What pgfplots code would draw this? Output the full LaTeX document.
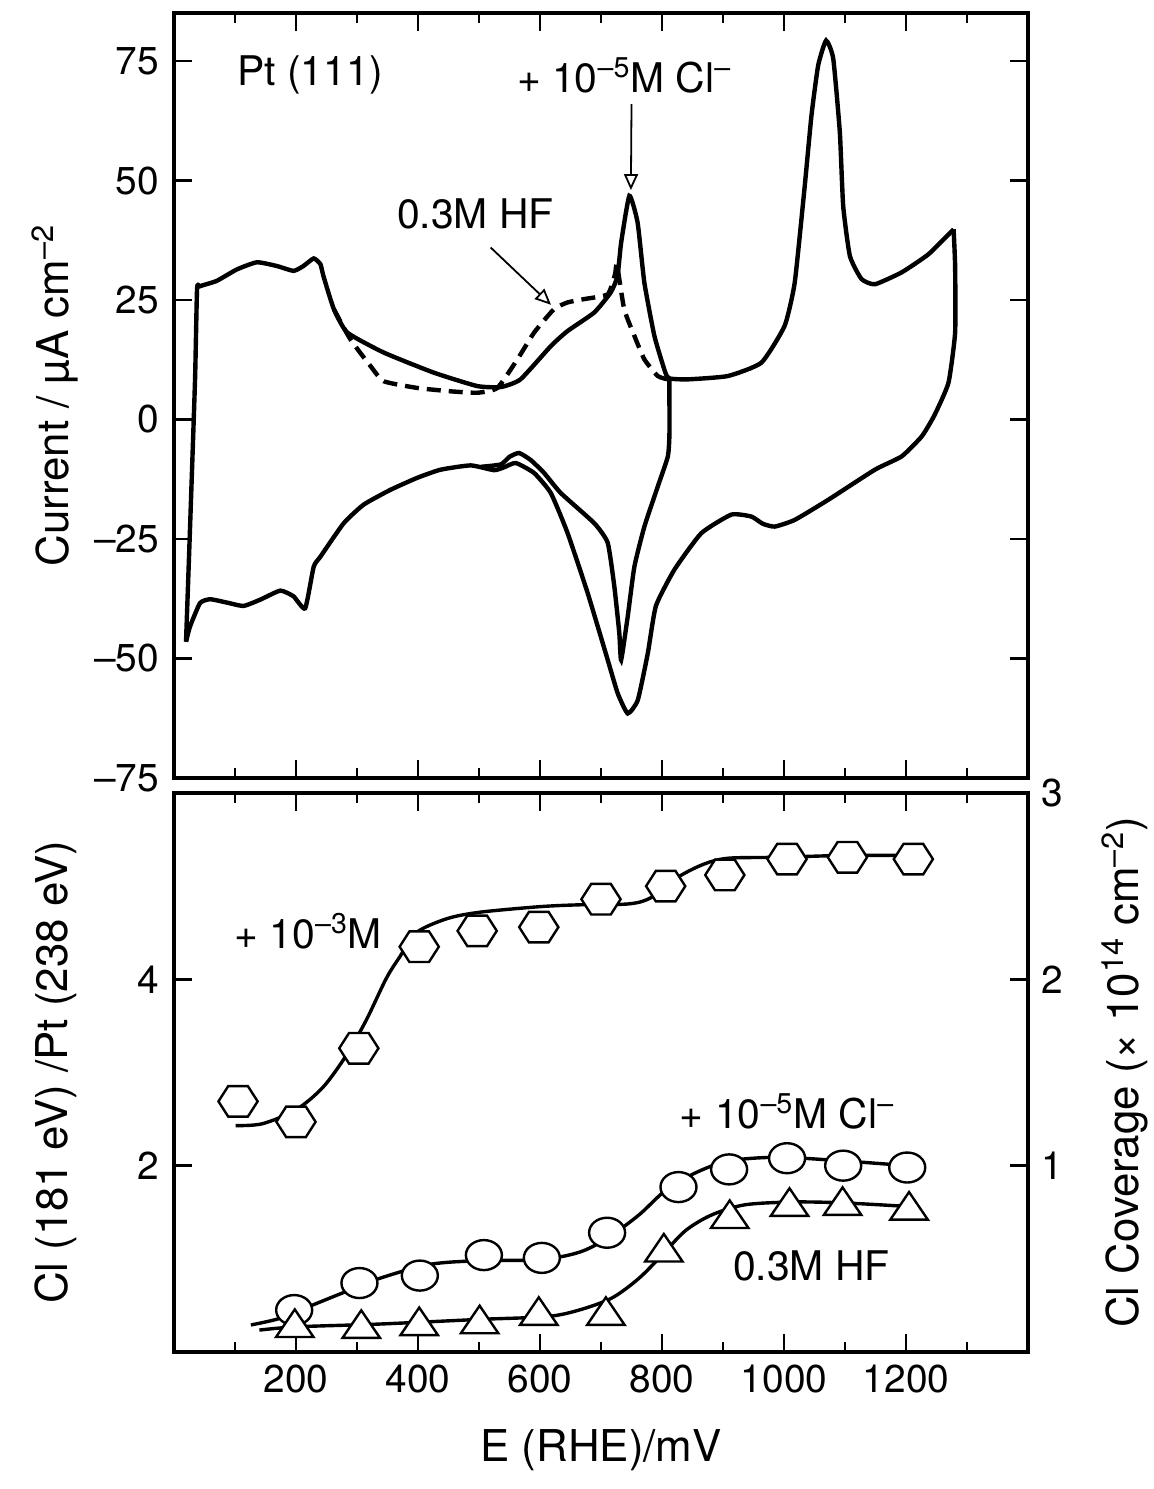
\documentclass[border=0pt]{standalone}
\usepackage{fontspec}
\setmainfont{TeX Gyre Heros}
\usepackage{pgfplots}
\pgfplotsset{compat=1.18}
\usetikzlibrary{arrows.meta}
\pgfdeclareplotmark{hexagon}{%
  \pgfpathmoveto{\pgfqpoint{\pgfplotmarksize}{0pt}}%
  \pgfpathlineto{\pgfqpoint{0.5\pgfplotmarksize}{0.78\pgfplotmarksize}}%
  \pgfpathlineto{\pgfqpoint{-0.5\pgfplotmarksize}{0.78\pgfplotmarksize}}%
  \pgfpathlineto{\pgfqpoint{-\pgfplotmarksize}{0pt}}%
  \pgfpathlineto{\pgfqpoint{-0.5\pgfplotmarksize}{-0.78\pgfplotmarksize}}%
  \pgfpathlineto{\pgfqpoint{0.5\pgfplotmarksize}{-0.78\pgfplotmarksize}}%
  \pgfpathclose
  \pgfusepathqfillstroke}
\newcommand{\tfont}{\fontsize{19.5}{23}\selectfont}
\newcommand{\lfont}{\fontsize{22}{26}\selectfont}
\newcommand{\ifont}{\fontsize{20.5}{24}\selectfont}
\pgfplotsset{
  cvstyle/.style={
    scale only axis, width=427bp,
    xmin=0, xmax=1400,
    xtick={200,400,...,1200}, minor xtick={100,300,...,1300},
    tick align=inside, xtick pos=both,
    major tick length=9bp, minor tick length=5bp,
    tick style={black, line width=1.3bp},
    axis line style={line width=2bp},
    tick label style={font=\tfont},
    label style={font=\lfont},
    /pgf/number format/assume math mode=true,
  }
}
\begin{document}
\begin{tikzpicture}[x=1bp,y=1bp]
\path[use as bounding box] (0,0) rectangle (577,744.5);

% ---------------- top panel ----------------
\begin{axis}[cvstyle,
  at={(87bp,355.5bp)}, anchor=south west, height=382.35bp,
  ymin=-75, ymax=85,
  ytick={-75,-50,-25,0,25,50,75},
  yticklabels={–75,–50,–25,0,25,50,75},
  ytick pos=both, xticklabels={},
  yticklabel style={xshift=-4bp},
  ylabel={Current / µA cm\textsuperscript{–2}},
  ylabel style={at={(axis description cs:-0.139,0.5)}, anchor=center},
]
% anodic sweep (solid)
\addplot[black, line width=2.2bp, smooth, tension=0.3] coordinates {
(19.7,-46.5)(27,-20)(34.5,8.4)(37.8,27.3)(42.7,27.9)(70,29.0)(103,31.4)(136,32.9)
(169,32.1)(196,31.1)(212,32.1)(229,33.7)(240,32.5)(245,30.0)(262,23.1)(284,18.2)
(344,14.0)(426,9.8)(497,7.0)(536,6.8)(568,8.4)(618,15.4)(645,18.5)(689,22.4)
(716,26.6)(727,30.0)(733,37.0)(746.5,46.8)(760,41.2)(771,28.7)(787.5,17.5)
(805,10.0)(812,8.6)(842,8.4)(908,9.1)(963,11.9)(1001,19.6)(1017.6,28.7)(1034,48.9)
(1045,63.6)(1056,74.1)(1069,79.3)(1080.7,75.5)(1091.5,60.1)(1097,44.7)(1108,34.2)
(1127,29.4)(1149,28.3)(1193,30.8)(1237,34.6)(1278,39.8)};
% cathodic sweep (solid, broad peak)
\addplot[black, line width=2.2bp, smooth, tension=0.3] coordinates {
(1278,39.8)(1280.5,32.1)(1280.5,18.2)(1269.6,7.7)(1247,1.0)(1226,-3.5)(1193,-7.7)
(1149,-10.5)(1072.5,-16.8)(1017.6,-21.0)(984.7,-22.4)(965,-21.8)(946.4,-20.3)
(913.6,-19.9)(864.3,-23.8)(820.4,-31.4)(790,-39)(776.7,-48.9)(760.3,-58.7)
(743.8,-61.5)(727.4,-57.3)(711,-50.3)(678.1,-36.3)(645.3,-23.8)(617.8,-15.4)
(590.4,-11.2)(560.3,-9.1)(541,-10.0)(524.6,-10.6)(486.4,-9.6)(437,-10.5)
(398.8,-12.2)(355,-14.7)(311,-17.8)(278.2,-21.7)(240,-28.7)(229,-30.8)(215,-39.5)
(196,-37.0)(174.2,-35.8)(141.3,-37.7)(113.9,-39.0)(86.6,-38.3)(59.2,-37.6)
(42.7,-38.4)(26.3,-43.3)(19.7,-46.5)};
% cathodic sweep (solid, sharp peak)
\addplot[black, line width=2.2bp, smooth, tension=0.3] coordinates {
(812,8.4)(812.2,-2.8)(809.6,-7.7)(793.1,-14.0)(771.1,-22.4)(754.7,-30.8)
(743.8,-41.2)(733,-50.3)(730,-44.7)(721.8,-34.9)(711,-25.8)(689,-21.7)
(634.2,-15.4)(606.8,-11.2)(585,-8.5)(565.7,-7.0)(550,-7.8)(535.7,-9.4)(502.8,-9.9)};
% 0.3 M HF (dashed)
\addplot[black, line width=2.2bp, dash pattern=on 7bp off 4bp, smooth, tension=0.3] coordinates {
(262,23.1)(289,16.8)(322,11.2)(344,8.0)(399,6.6)(453.5,5.9)(497.4,5.6)(530,6.6)
(563,12.6)(590.4,18.2)(623,23.1)(645.3,24.5)(672.5,25.2)(711,26.2)(723,30.4)
(726,32.5)(738,23.1)(754.7,17.5)(771,12.6)(793,9.1)(809.6,8.4)};
\node[font=\ifont] at (axis cs:223,72) {Pt (111)};
\node[font=\ifont] at (axis cs:738,72) {+ 10\textsuperscript{–5}M Cl\textsuperscript{–}};
\node[font=\ifont] at (axis cs:494,43) {0.3M HF};
\draw[-{Triangle[open,length=8bp,width=7bp]}, line width=0.9bp] (axis cs:750,66) -- (axis cs:749,48);
\draw[-{Triangle[open,length=8bp,width=7bp]}, line width=0.9bp] (axis cs:519,36) -- (axis cs:618,24);
\end{axis}

% ---------------- bottom panel ----------------
\begin{axis}[cvstyle,
  at={(87bp,68.5bp)}, anchor=south west, height=279.5bp,
  ymin=0, ymax=6, ytick={2,4}, ytick pos=left,
  xticklabels={200,400,600,800,1000,1200},
  yticklabel style={xshift=-4bp},
  xticklabel style={yshift=-3bp},
  ylabel={Cl (181 eV) /Pt (238 eV)},
  ylabel style={at={(axis description cs:-0.139,0.5)}, anchor=center},
  xlabel={E (RHE)/mV},
  xlabel style={at={(axis description cs:0.5,-0.175)}, anchor=center},
]
\addplot[black, line width=1.7bp, smooth, tension=0.5] coordinates {
(101,2.43)(145,2.45)(200,2.60)(244,2.84)(282,3.18)(315,3.56)(348,4.01)(370,4.24)
(397,4.50)(447,4.65)(501,4.72)(600,4.78)(666,4.80)(746,4.81)(783,4.88)(827,5.10)
(870,5.24)(909,5.30)(991,5.31)(1100,5.33)(1205,5.33)};
\addplot[black, line width=1.7bp, smooth, tension=0.5] coordinates {
(126,0.29)(173,0.36)(222,0.49)(271,0.62)(337,0.79)(419,0.94)(501,0.98)(600,0.99)
(664,1.07)(710,1.22)(762,1.47)(805,1.73)(854,1.92)(909,2.05)(991,2.09)(1099,2.05)(1202,2.0)};
\addplot[black, line width=1.7bp, smooth, tension=0.5] coordinates {
(140,0.235)(200,0.27)(337,0.30)(501,0.35)(611,0.38)(664,0.45)(718,0.58)(762,0.79)
(800,1.04)(838,1.30)(881,1.47)(936,1.58)(1017,1.61)(1099,1.60)(1208,1.56)};
\addplot[only marks, mark=hexagon, mark size=9.8bp,
  mark options={fill=white, draw=black, line width=1.2bp}] coordinates {
(105,2.69)(200,2.47)(303,3.26)(402,4.35)(497,4.52)(598,4.56)(700,4.86)(806,5.0)
(903,5.12)(1005,5.29)(1104,5.31)(1212,5.29)};
\addplot[only marks, mark=*, mark size=7.5bp,
  mark options={fill=white, draw=black, line width=1.2bp, xscale=1.2}] coordinates {
(197,0.45)(304,0.74)(403,0.82)(508,1.04)(603,1.01)(710,1.28)(827,1.77)(910,1.96)
(1005,2.08)(1097,2.00)(1202,1.98)};
\addplot[only marks, mark=triangle*, mark size=10.8bp,
  mark options={fill=white, draw=black, line width=1.2bp, yscale=0.85}] coordinates {
(198,0.26)(307,0.25)(402,0.28)(501,0.30)(598,0.39)(708,0.39)(803,1.07)(911,1.43)
(1009,1.56)(1096,1.57)(1205,1.52)};
\node[font=\ifont] at (axis cs:220,4.52) {+ 10\textsuperscript{–3}M};
\node[font=\ifont] at (axis cs:1005,2.58) {+ 10\textsuperscript{–5}M Cl\textsuperscript{–}};
\node[font=\ifont] at (axis cs:1045,0.92) {0.3M HF};
\end{axis}
\begin{axis}[
  at={(87bp,68.5bp)}, anchor=south west, scale only axis, width=427bp, height=279.5bp,
  xmin=0, xmax=1400, ymin=0, ymax=3,
  axis x line=none, axis y line*=right,
  ytick={1,2,3}, tick align=inside,
  major tick length=9bp, tick style={black, line width=1.3bp},
  axis line style={line width=2bp},
  tick label style={font=\tfont},
  label style={font=\lfont},
  /pgf/number format/assume math mode=true,
  yticklabel style={xshift=3bp},
  ylabel={Cl Coverage (× 10\textsuperscript{14} cm\textsuperscript{–2})},
  ylabel style={at={(axis description cs:1.113,0.5)}, anchor=center},
]
\end{axis}
\end{tikzpicture}
\end{document}
